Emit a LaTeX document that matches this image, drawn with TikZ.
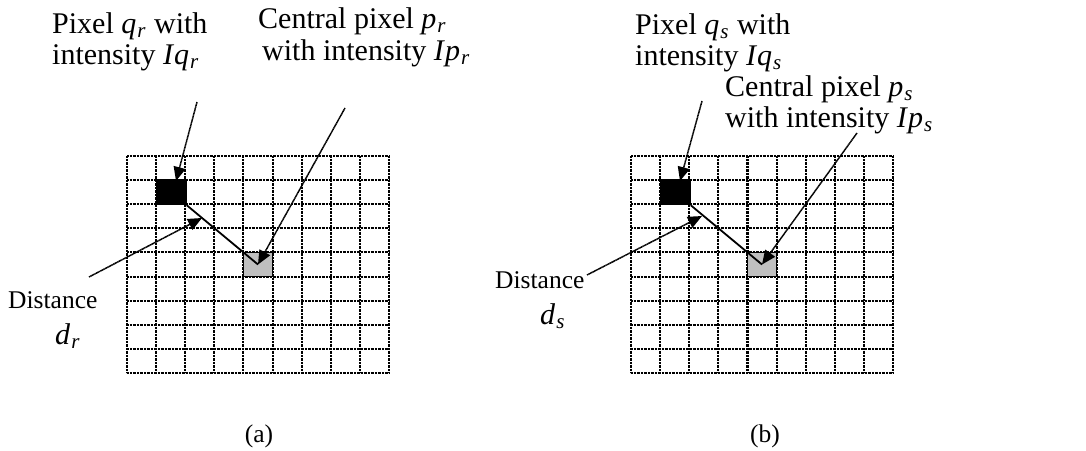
\documentclass[tikz,border=0pt]{standalone}
\usepackage{fontspec}
\setmainfont{Liberation Serif}
\usetikzlibrary{arrows.meta}
\newcommand\mv[2]{\textit{#1}\kern1pt\raisebox{-0.16em}{\fontsize{21}{21}\selectfont\textit{#2}}\kern1pt}
\tikzset{
  gridline/.style={line width=2.1pt, dash pattern=on 1pt off 0.4pt, black},
  lbl/.style={anchor=base west, inner sep=0pt, font=\fontsize{30}{32}\selectfont},
  smalllbl/.style={anchor=base west, inner sep=0pt, font=\fontsize{25.5}{28}\selectfont},
  blackpx/.style={fill=black, draw=black, line width=1pt, minimum width=30pt, minimum height=25pt, inner sep=0pt},
  graypx/.style={fill=gray!50, draw=black, line width=1.5pt, minimum width=29.1pt, minimum height=24.1pt, inner sep=0pt},
  arr/.style={line width=1.5pt, dash pattern=on 1.2pt off 0.4pt, -{Triangle[length=14pt,width=12pt]}},
  distline/.style={line width=1.8pt},
}
\begin{document}
\begin{tikzpicture}[x=1pt,y=-1pt]
\useasboundingbox (0,0) rectangle (1086,450);
\fill[white] (0,0) rectangle (1086,450);
% grids
\foreach \gx in {127,631}{
  \foreach \i in {0,...,9}{
    \draw[gridline] ({\gx+\i*262/9},156) -- ({\gx+\i*262/9},373);
    \draw[gridline] (\gx,{156+\i*217/9}) -- ({\gx+262},{156+\i*217/9});
  }
}
% pixels (a)
\node[blackpx] (qa) at (171.2,192.2) {};
\node[graypx] (pa) at (258,264.5) {};
% pixels (b)
\node[blackpx] (qb) at (675.2,192.2) {};
\node[graypx] (pb) at (762,264.5) {};
% distance lines
\draw[distline] (qa.south east) -- (pa.center);
\draw[distline] (qb.south east) -- (pb.center);
% labels (a)
\node[lbl] (qa1) at (52,33) {Pixel \mv{q}{r}\ with};
\node[lbl] (qa2) at (52,64) {intensity \textit{I}\mv{q}{r}};
\node[lbl] (pa1) at (258,28) {Central pixel \mv{p}{r}};
\node[lbl] (pa2) at (262,60) {with intensity \textit{I}\mv{p}{r}};
\node[smalllbl] (da1) at (8,308) {Distance};
\node[lbl] (da2) at (55,344) {\mv{d}{r}};
\node[smalllbl, anchor=base] (capa) at (259,442) {(a)};
% labels (b)
\node[lbl] (qb1) at (635,34) {Pixel \mv{q}{s}\ with};
\node[lbl] (qb2) at (635,65) {intensity \textit{I}\mv{q}{s}};
\node[lbl] (pb1) at (725,96) {Central pixel \mv{p}{s}};
\node[lbl] (pb2) at (725,127) {with intensity \textit{I}\mv{p}{s}};
\node[smalllbl] (db1) at (495,288) {Distance};
\node[lbl] (db2) at (540,324) {\mv{d}{s}};
\node[smalllbl, anchor=base] (capb) at (765,442) {(b)};
% arrow coordinates
\coordinate (qas) at (197,102);
\coordinate (qat) at (176,181);
\coordinate (pas) at (345,108);
\coordinate (das) at (89,277);
\coordinate (dat) at (202,218);
\coordinate (qbs) at (702,101);
\coordinate (qbt) at (680,181);
\coordinate (pbs) at (857,133);
\coordinate (dbs) at (587,275);
\coordinate (dbt) at (702,216);
% arrows
\draw[arr] (qas) -- (qat);
\draw[arr] (pas) -- (pa.center);
\draw[arr] (das) -- (dat);
\draw[arr] (qbs) -- (qbt);
\draw[arr] (pbs) -- (pb.center);
\draw[arr] (dbs) -- (dbt);
\end{tikzpicture}
\end{document}
